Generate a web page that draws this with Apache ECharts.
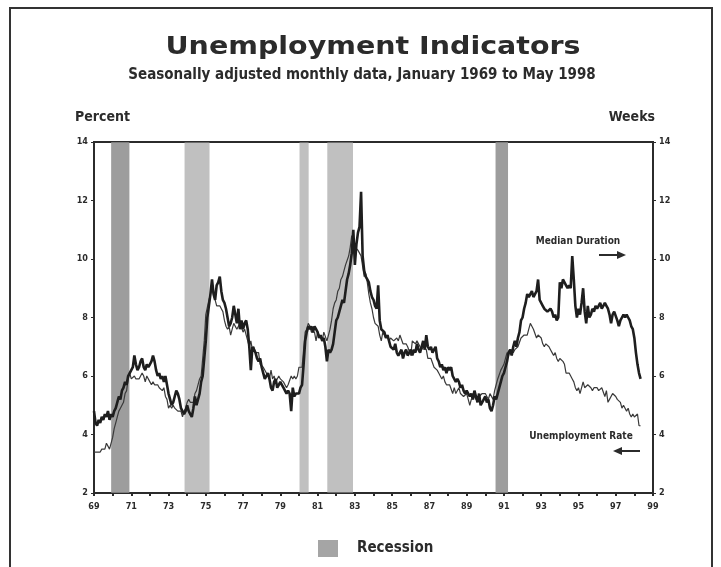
<!DOCTYPE html>
<html>
<head>
<meta charset="utf-8">
<script src="https://cdn.jsdelivr.net/npm/echarts@6/dist/echarts.min.js"></script>
<style>
html,body{margin:0;padding:0;background:#fff;}
#chart{width:721px;height:567px;}
</style>
</head>
<body>
<div id="chart"></div>
<script>
// ---- Data (monthly, Jan 1969 .. May 1998) ----
var startYear = 1969;
// Civilian unemployment rate, percent (left axis)
var unempRate = [
  3.4,3.4,3.4,3.4,3.4,3.5,3.5,3.5,3.7,3.7,3.5,3.5,
  3.9,4.2,4.4,4.6,4.8,4.9,5.0,5.1,5.4,5.5,5.9,6.1,
  5.9,5.9,6.0,5.9,5.9,5.9,6.0,6.1,6.0,5.8,6.0,6.0,
  5.8,5.7,5.8,5.7,5.7,5.7,5.6,5.6,5.5,5.6,5.3,5.2,
  4.9,5.0,4.9,5.0,4.9,4.9,4.8,4.8,4.8,4.6,4.8,4.9,
  5.1,5.2,5.1,5.1,5.1,5.4,5.5,5.5,5.9,6.0,6.6,7.2,
  8.1,8.1,8.6,8.8,9.0,8.8,8.6,8.4,8.4,8.4,8.3,8.2,
  7.9,7.7,7.6,7.7,7.4,7.6,7.8,7.8,7.6,7.7,7.8,7.8,
  7.5,7.6,7.4,7.2,7.0,7.2,6.9,7.0,6.8,6.8,6.8,6.4,
  6.4,6.3,6.3,6.1,6.0,5.9,6.2,5.9,6.0,5.8,5.9,6.0,
  5.9,5.9,5.8,5.8,5.6,5.7,5.7,6.0,5.9,6.0,5.9,6.0,
  6.3,6.3,6.3,6.9,7.5,7.6,7.8,7.7,7.5,7.5,7.5,7.2,
  7.5,7.4,7.4,7.2,7.5,7.5,7.2,7.4,7.6,7.9,8.3,8.5,
  8.6,8.9,9.0,9.3,9.4,9.6,9.8,9.8,10.1,10.4,10.8,10.8,
  10.4,10.4,10.3,10.2,10.1,10.1,9.4,9.5,9.2,8.8,8.5,8.3,
  8.0,7.8,7.8,7.7,7.4,7.2,7.5,7.5,7.3,7.4,7.2,7.3,
  7.3,7.2,7.2,7.3,7.2,7.4,7.4,7.1,7.1,7.1,7.0,7.0,
  6.7,7.2,7.2,7.1,7.2,7.2,7.0,6.9,7.0,7.0,6.9,6.6,
  6.6,6.6,6.6,6.3,6.3,6.2,6.1,6.0,5.9,6.0,5.8,5.7,
  5.7,5.7,5.7,5.4,5.6,5.4,5.4,5.6,5.4,5.4,5.3,5.3,
  5.4,5.2,5.0,5.2,5.2,5.3,5.2,5.2,5.3,5.3,5.4,5.4,
  5.4,5.3,5.2,5.4,5.4,5.2,5.5,5.7,5.9,5.9,6.2,6.3,
  6.4,6.6,6.8,6.7,6.9,6.9,6.8,6.9,6.9,7.0,7.0,7.3,
  7.3,7.4,7.4,7.4,7.6,7.8,7.7,7.6,7.6,7.3,7.4,7.4,
  7.3,7.1,7.0,7.1,7.1,7.0,6.9,6.8,6.7,6.8,6.6,6.5,
  6.6,6.6,6.5,6.4,6.1,6.1,6.1,6.0,5.9,5.8,5.6,5.5,
  5.6,5.4,5.4,5.8,5.6,5.6,5.7,5.7,5.6,5.5,5.6,5.6,
  5.6,5.5,5.5,5.6,5.6,5.3,5.5,5.1,5.2,5.2,5.4,5.4,
  5.3,5.2,5.2,5.1,4.9,5.0,4.9,4.8,4.9,4.7,4.6,4.7,
  4.6,4.6,4.7,4.3,4.3
];
// Median duration of unemployment, weeks (right axis)
var medianWeeks = [
  4.8,4.4,4.3,4.5,4.4,4.6,4.5,4.7,4.6,4.8,4.5,4.7,
  4.6,4.8,4.9,5.1,5.3,5.2,5.5,5.6,5.8,5.7,6.0,6.1,
  6.2,6.3,6.7,6.4,6.2,6.3,6.5,6.6,6.3,6.2,6.4,6.3,
  6.4,6.5,6.7,6.5,6.2,6.0,6.1,5.9,6.0,5.8,6.0,5.7,
  5.4,5.2,5.0,5.1,5.3,5.5,5.4,5.2,4.9,4.9,4.7,4.8,
  5.0,4.8,4.7,4.6,4.9,5.3,5.0,5.2,5.4,5.8,6.0,6.6,
  7.2,8.0,8.4,8.8,9.3,8.8,8.6,9.1,9.2,9.4,8.9,8.6,
  8.5,8.3,8.0,7.7,7.8,8.0,8.4,8.1,7.8,8.3,7.6,7.9,
  7.6,7.8,7.9,7.6,7.0,6.2,7.0,6.9,6.8,6.6,6.5,6.6,
  6.3,6.1,5.9,6.0,6.1,5.9,5.6,5.5,5.8,5.9,5.6,5.7,
  5.8,5.7,5.6,5.6,5.4,5.5,5.4,4.8,5.6,5.3,5.4,5.4,
  5.4,5.6,5.7,6.4,7.2,7.5,7.7,7.6,7.7,7.5,7.7,7.6,
  7.5,7.3,7.4,7.2,7.3,7.0,6.5,6.9,6.8,6.9,7.1,7.5,
  7.9,8.0,8.2,8.4,8.6,8.5,8.9,9.3,9.5,9.8,10.2,11.0,
  9.8,10.5,10.9,11.1,12.3,10.1,9.6,9.4,9.3,9.2,8.9,8.7,
  8.6,8.4,8.3,9.1,7.9,7.6,7.6,7.5,7.3,7.4,7.2,7.0,
  7.0,6.9,7.1,6.8,6.7,6.8,6.9,6.6,6.8,6.9,6.7,6.8,
  6.9,6.7,6.9,6.8,7.1,6.9,6.8,7.0,7.2,6.9,7.4,7.0,
  6.9,7.0,6.8,6.9,7.0,6.6,6.5,6.3,6.4,6.2,6.3,6.1,
  6.3,6.2,6.3,6.0,5.9,5.8,5.9,5.8,5.6,5.7,5.5,5.4,
  5.5,5.4,5.3,5.4,5.2,5.5,5.3,5.1,5.4,5.0,5.1,5.2,
  5.3,5.1,5.2,4.9,4.8,5.0,5.3,5.2,5.4,5.6,5.8,6.0,
  6.1,6.3,6.5,6.8,6.9,6.7,7.0,7.2,7.0,7.3,7.5,7.9,
  8.0,8.3,8.5,8.8,8.7,8.8,8.9,8.7,8.8,8.9,9.3,8.6,
  8.6,8.4,8.3,8.3,8.2,8.2,8.3,8.2,8.0,8.1,7.9,8.0,
  9.2,9.0,9.3,9.2,9.1,9.0,9.1,9.0,10.1,9.3,8.4,8.0,
  8.3,8.1,8.5,9.0,8.2,7.8,8.4,8.0,8.1,8.3,8.2,8.4,
  8.3,8.4,8.5,8.3,8.4,8.5,8.4,8.3,8.1,7.8,8.1,8.2,
  8.2,7.9,7.7,7.9,8.0,8.1,8.0,8.1,8.0,7.9,7.7,7.6,
  7.3,6.8,6.4,6.1,5.9
];
// Recession periods (decimal years: start, end)
var recessions = [
  [1969.92, 1970.90],
  [1973.86, 1975.20],
  [1980.03, 1980.52],
  [1981.52, 1982.90],
  [1990.55, 1991.22]
];
var darkRecessions = [0, 4];

function toPairs(arr) {
  return arr.map(function (v, i) { return [startYear + i / 12, v]; });
}

var chart = echarts.init(document.getElementById('chart'), null, {renderer: 'canvas'});
var cond = "'DejaVu Sans Condensed','Liberation Sans Narrow','Roboto Condensed',sans-serif";
var ink = '#2b2b2b';

var lightAreas = [], darkAreas = [];
recessions.forEach(function (r, i) {
  var item = [{xAxis: r[0]}, {xAxis: r[1]}];
  if (darkRecessions.indexOf(i) >= 0) darkAreas.push(item); else lightAreas.push(item);
});

var yAxisCommon = {
  type: 'value', min: 2, max: 14, interval: 2,
  axisLine: {show: true, lineStyle: {color: ink, width: 2}},
  axisTick: {show: true, length: 3, lineStyle: {color: ink, width: 1}},
  splitLine: {show: false},
  axisLabel: {color: ink, fontFamily: cond, fontSize: 9, fontWeight: 'bold', margin: 6}
};

chart.setOption({
  animation: false,
  backgroundColor: '#fff',
  grid: {left: 94, right: 68, top: 142, bottom: 74, show: true, borderColor: ink, borderWidth: 2},
  xAxis: {
    type: 'value', min: 1969, max: 1999, interval: 1,
    axisLine: {show: true, lineStyle: {color: ink, width: 2}},
    axisTick: {show: true, length: 3, lineStyle: {color: ink, width: 2}},
    splitLine: {show: false},
    axisLabel: {
      color: ink, fontFamily: cond, fontSize: 9, fontWeight: 'bold', margin: 9,
      formatter: function (v) { return (v % 2 === 1) ? String(v % 100).padStart(2, '0') : ''; }
    }
  },
  yAxis: [
    Object.assign({}, yAxisCommon, {position: 'left'}),
    Object.assign({}, yAxisCommon, {position: 'right'})
  ],
  series: [
    {
      type: 'line', data: [], z: 1, silent: true,
      markArea: {silent: true, itemStyle: {color: 'rgba(150,150,150,0.6)'}, data: lightAreas}
    },
    {
      name: 'Unemployment Rate', type: 'line', yAxisIndex: 0, data: toPairs(unempRate),
      showSymbol: false, z: 3, lineStyle: {color: '#3a3a3a', width: 1.2}
    },
    {
      name: 'Median Duration', type: 'line', yAxisIndex: 1, data: toPairs(medianWeeks),
      showSymbol: false, z: 4, lineStyle: {color: '#1e1e1e', width: 2.6}
    },
    {
      type: 'line', data: [], z: 6, silent: true,
      markArea: {silent: true, itemStyle: {color: 'rgba(140,140,140,0.85)'}, data: darkAreas}
    }
  ],
  graphic: [
    {type: 'rect', shape: {x: 10, y: 8, width: 702, height: 580}, style: {fill: 'none', stroke: '#333', lineWidth: 2}, silent: true},
    {type: 'text', x: 373, y: 35, scaleX: 1.14, style: {text: 'Unemployment Indicators', fill: ink, font: "bold 25px 'DejaVu Sans',sans-serif", textAlign: 'center'}},
    {type: 'text', x: 362, y: 68, style: {text: 'Seasonally adjusted monthly data, January 1969 to May 1998', fill: ink, font: "bold 15px " + cond, textAlign: 'center'}},
    {type: 'text', x: 75, y: 110, style: {text: 'Percent', fill: ink, font: "bold 14px " + cond}},
    {type: 'text', x: 655, y: 110, style: {text: 'Weeks', fill: ink, font: "bold 14px " + cond, textAlign: 'right'}},
    {type: 'text', x: 578, y: 236, style: {text: 'Median Duration', fill: ink, font: "bold 10px " + cond, textAlign: 'center'}},
    {type: 'line', shape: {x1: 599, y1: 255, x2: 619, y2: 255}, style: {stroke: ink, lineWidth: 2}},
    {type: 'polygon', shape: {points: [[626, 255], [617, 251], [617, 259]]}, style: {fill: ink}},
    {type: 'text', x: 581, y: 431, style: {text: 'Unemployment Rate', fill: ink, font: "bold 10px " + cond, textAlign: 'center'}},
    {type: 'line', shape: {x1: 620, y1: 451, x2: 640, y2: 451}, style: {stroke: ink, lineWidth: 2}},
    {type: 'polygon', shape: {points: [[613, 451], [622, 447], [622, 455]]}, style: {fill: ink}},
    {type: 'rect', shape: {x: 318, y: 540, width: 20, height: 17}, style: {fill: '#a5a5a5'}},
    {type: 'text', x: 357, y: 541, style: {text: 'Recession', fill: ink, font: "bold 15px " + cond}}
  ]
});
</script>
</body>
</html>
